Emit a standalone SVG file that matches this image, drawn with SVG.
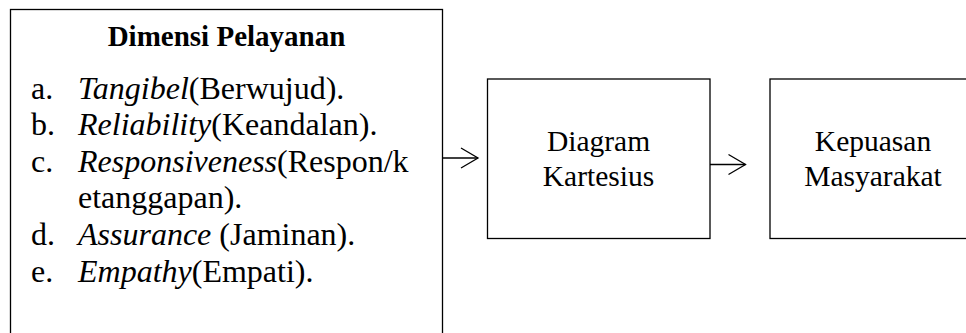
<svg xmlns="http://www.w3.org/2000/svg" width="966" height="333" viewBox="0 0 966 333">
  <style>
    .box { fill: #fff; stroke: #000; stroke-width: 1.3; }
    .link { fill: none; stroke: #000; stroke-width: 1.3; }
    .title { font-size: 29px; font-weight: bold; text-anchor: middle; }
    .item { font-size: 32px; }
    .label { font-size: 29.5px; text-anchor: middle; }
    .it { font-style: italic; }
  </style>
  <defs>
    <marker id="open-arrow" markerUnits="userSpaceOnUse" viewBox="-2 -2 22 24" refX="17" refY="10" markerWidth="22" markerHeight="24" orient="auto" overflow="visible">
      <path d="M0,0 L17,10 L0,20" fill="none" stroke="#000" stroke-width="1.3"/>
    </marker>
  </defs>

  <rect width="966" height="333" fill="#fff"/>

  <g font-family="'Liberation Serif', 'DejaVu Serif', serif" fill="#000">
    <g id="dimensi-pelayanan">
      <rect class="box" x="10.5" y="9.5" width="432" height="340"/>
      <text class="title" x="226.5" y="46">Dimensi Pelayanan</text>
      <text class="item" x="31" y="99">a.</text>
      <text class="item" x="78" y="99"><tspan class="it">Tangibel</tspan>(Berwujud).</text>
      <text class="item" x="31" y="135">b.</text>
      <text class="item" x="78" y="135"><tspan class="it">Reliability</tspan>(Keandalan).</text>
      <text class="item" x="31" y="172">c.</text>
      <text class="item" x="78" y="172"><tspan class="it">Responsiveness</tspan>(Respon/k</text>
      <text class="item" x="78" y="208">etanggapan).</text>
      <text class="item" x="31" y="245">d.</text>
      <text class="item" x="78" y="245"><tspan class="it">Assurance</tspan> (Jaminan).</text>
      <text class="item" x="31" y="282">e.</text>
      <text class="item" x="78" y="282"><tspan class="it">Empathy</tspan>(Empati).</text>
    </g>

    <g id="diagram-kartesius">
      <rect class="box" x="487.5" y="79" width="222.5" height="159.5"/>
      <text class="label" x="598.5" y="151">Diagram</text>
      <text class="label" x="598.5" y="186">Kartesius</text>
    </g>

    <g id="kepuasan-masyarakat">
      <rect class="box" x="770" y="79" width="210" height="159.5"/>
      <text class="label" x="873" y="151">Kepuasan</text>
      <text class="label" x="873" y="186">Masyarakat</text>
    </g>
  </g>

  <g id="connectors">
    <line class="link" x1="442.5" y1="158" x2="478" y2="158" marker-end="url(#open-arrow)"/>
    <line class="link" x1="710" y1="164.5" x2="745.5" y2="164.5" marker-end="url(#open-arrow)"/>
  </g>
</svg>
